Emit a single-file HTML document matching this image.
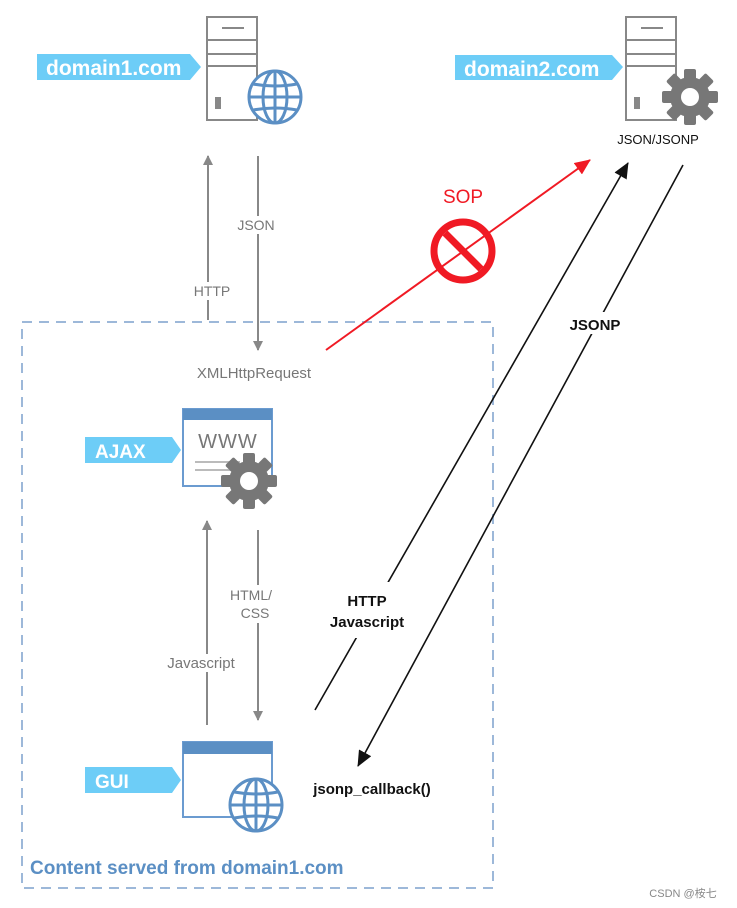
<!DOCTYPE html>
<html><head><meta charset="utf-8"><style>
html,body{margin:0;padding:0;background:#fff;}
svg{display:block;font-family:"Liberation Sans",Arial,sans-serif;}
</style></head><body>
<svg width="737" height="908" viewBox="0 0 737 908" xmlns="http://www.w3.org/2000/svg">
<defs>
<marker id="ag" markerWidth="10" markerHeight="10" refX="9" refY="5" orient="auto" markerUnits="userSpaceOnUse"><path d="M0,0 L10,5 L0,10 z" fill="#888"/></marker>
<marker id="ab" markerWidth="16" markerHeight="14" refX="15" refY="7" orient="auto" markerUnits="userSpaceOnUse"><path d="M0,0 L16,7 L0,14 z" fill="#111"/></marker>
<marker id="ar" markerWidth="16" markerHeight="14" refX="15" refY="7" orient="auto" markerUnits="userSpaceOnUse"><path d="M0,0 L16,7 L0,14 z" fill="#f01a24"/></marker>
<g id="gear">
<g fill="#777">
<circle r="20"/>
<rect x="-6" y="-28" width="12" height="56" rx="2"/>
<rect x="-6" y="-28" width="12" height="56" rx="2" transform="rotate(45)"/>
<rect x="-6" y="-28" width="12" height="56" rx="2" transform="rotate(90)"/>
<rect x="-6" y="-28" width="12" height="56" rx="2" transform="rotate(135)"/>
</g>
<circle r="9" fill="#fff"/>
</g>
<g id="globe" fill="#fff" stroke="#5b8fc4" stroke-width="3">
<circle r="26"/>
<ellipse rx="12" ry="26"/>
<line x1="0" y1="-26" x2="0" y2="26"/>
<line x1="-26" y1="0" x2="26" y2="0"/>
<path d="M-22,-13 Q0,-9 22,-13 M-22,13 Q0,9 22,13" fill="none"/>
</g>
</defs>

<!-- dashed box -->
<rect x="22" y="322" width="471" height="566" fill="none" stroke="#9db8d9" stroke-width="2" stroke-dasharray="10,7"/>

<!-- server 1 -->
<g fill="none" stroke="#888" stroke-width="2">
<rect x="207" y="17" width="50" height="103"/>
<line x1="207" y1="40" x2="257" y2="40"/><line x1="207" y1="54" x2="257" y2="54"/><line x1="207" y1="66" x2="257" y2="66"/>
<line x1="222" y1="28" x2="244" y2="28"/>
</g>
<rect x="215" y="97" width="6" height="12" fill="#888"/>
<use href="#globe" x="275" y="97"/>
<path d="M37,54 H190 L201,67 L190,80 H37 Z" fill="#6dcdf7"/>
<text x="46" y="75" font-size="21" font-weight="bold" fill="#fff">domain1.com</text>

<!-- server 2 -->
<g fill="none" stroke="#888" stroke-width="2">
<rect x="626" y="17" width="50" height="103"/>
<line x1="626" y1="40" x2="676" y2="40"/><line x1="626" y1="54" x2="676" y2="54"/><line x1="626" y1="66" x2="676" y2="66"/>
<line x1="641" y1="28" x2="663" y2="28"/>
</g>
<rect x="634" y="97" width="6" height="12" fill="#888"/>
<use href="#gear" x="690" y="97"/>
<path d="M455,55 H612 L623,67 L612,80 H455 Z" fill="#6dcdf7"/>
<text x="464" y="76" font-size="21" font-weight="bold" fill="#fff">domain2.com</text>
<text x="658" y="144" font-size="13" fill="#111" text-anchor="middle">JSON/JSONP</text>

<!-- gray arrows top -->
<line x1="208" y1="320" x2="208" y2="156" stroke="#888" stroke-width="2" marker-end="url(#ag)"/>
<line x1="258" y1="156" x2="258" y2="350" stroke="#888" stroke-width="2" marker-end="url(#ag)"/>
<rect x="232" y="216" width="48" height="18" fill="#fff"/>
<text x="256" y="230" font-size="14" fill="#777" text-anchor="middle">JSON</text>
<rect x="186" y="282" width="48" height="18" fill="#fff"/>
<text x="212" y="296" font-size="14" fill="#777" text-anchor="middle">HTTP</text>
<rect x="165" y="363" width="180" height="20" fill="#fff"/>
<text x="254" y="378" font-size="15" fill="#777" text-anchor="middle">XMLHttpRequest</text>

<!-- red SOP -->
<line x1="326" y1="350" x2="590" y2="160" stroke="#f01a24" stroke-width="2" marker-end="url(#ar)"/>
<circle cx="463" cy="251" r="29" fill="none" stroke="#f01a24" stroke-width="7"/>
<line x1="445" y1="233" x2="481" y2="269" stroke="#f01a24" stroke-width="7"/>
<text x="463" y="203" font-size="19" fill="#f01a24" text-anchor="middle">SOP</text>

<!-- AJAX window -->
<rect x="183" y="409" width="89" height="77" fill="#fff" stroke="#6b9bd0" stroke-width="2"/>
<rect x="183" y="409" width="89" height="11" fill="#5b8fc4"/>
<text x="228" y="448" font-size="20" fill="#777" text-anchor="middle" letter-spacing="1">WWW</text>
<g stroke="#bbb" stroke-width="2"><line x1="195" y1="462" x2="240" y2="462"/><line x1="195" y1="470" x2="240" y2="470"/></g>
<use href="#gear" x="249" y="481"/>
<path d="M85,437 H172 L181,450 L172,463 H85 Z" fill="#6dcdf7"/>
<text x="95" y="458" font-size="19" font-weight="bold" fill="#fff">AJAX</text>

<!-- gray arrows bottom -->
<line x1="207" y1="725" x2="207" y2="521" stroke="#888" stroke-width="2" marker-end="url(#ag)"/>
<line x1="258" y1="530" x2="258" y2="720" stroke="#888" stroke-width="2" marker-end="url(#ag)"/>
<rect x="228" y="585" width="48" height="38" fill="#fff"/>
<text x="251" y="600" font-size="14" fill="#777" text-anchor="middle">HTML/</text>
<text x="255" y="618" font-size="14" fill="#777" text-anchor="middle">CSS</text>
<rect x="158" y="654" width="86" height="18" fill="#fff"/>
<text x="201" y="668" font-size="15" fill="#777" text-anchor="middle">Javascript</text>

<!-- GUI window -->
<rect x="183" y="742" width="89" height="75" fill="#fff" stroke="#6b9bd0" stroke-width="2"/>
<rect x="183" y="742" width="89" height="12" fill="#5b8fc4"/>
<use href="#globe" x="256" y="805"/>
<path d="M85,767 H172 L181,780 L172,793 H85 Z" fill="#6dcdf7"/>
<text x="95" y="788" font-size="19" font-weight="bold" fill="#fff">GUI</text>

<!-- black arrows -->
<line x1="315" y1="710" x2="628" y2="163" stroke="#111" stroke-width="1.6" marker-end="url(#ab)"/>
<line x1="683" y1="165" x2="358" y2="766" stroke="#111" stroke-width="1.6" marker-end="url(#ab)"/>
<rect x="320" y="582" width="96" height="56" fill="#fff"/>
<text x="367" y="606" font-size="15" font-weight="bold" fill="#111" text-anchor="middle">HTTP</text>
<text x="367" y="627" font-size="15" font-weight="bold" fill="#111" text-anchor="middle">Javascript</text>
<rect x="560" y="312" width="70" height="22" fill="#fff"/>
<text x="595" y="330" font-size="15" font-weight="bold" fill="#111" text-anchor="middle">JSONP</text>
<text x="372" y="794" font-size="15" font-weight="bold" fill="#111" text-anchor="middle">jsonp_callback()</text>

<text x="30" y="874" font-size="19" font-weight="bold" fill="#5b8fc4">Content served from domain1.com</text>
<text x="683" y="897" font-size="11" fill="#888" text-anchor="middle" font-family="'Liberation Sans','Noto Sans CJK SC',sans-serif">CSDN @桉七</text>
</svg>
</body></html>
